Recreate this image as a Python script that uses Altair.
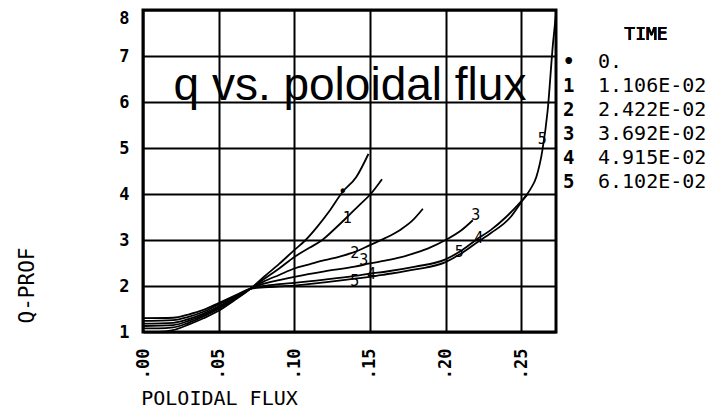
import altair as alt
import pandas as pd

# q profile versus poloidal flux, one curve per saved time slice
flux_0 = [0.0, 0.01, 0.02, 0.03, 0.04, 0.05, 0.06, 0.071, 0.08, 0.09, 0.10, 0.1075, 0.115, 0.123, 0.132, 0.141, 0.149]
q_0 = [1.00, 1.00, 1.04, 1.16, 1.30, 1.46, 1.68, 1.94, 2.20, 2.48, 2.78, 3.00, 3.28, 3.62, 4.05, 4.37, 4.87]

flux_1 = [0.0, 0.01, 0.02, 0.03, 0.04, 0.05, 0.06, 0.071, 0.08, 0.09, 0.10, 0.11, 0.1185, 0.127, 0.135, 0.143, 0.1505, 0.158]
q_1 = [1.08, 1.08, 1.10, 1.20, 1.34, 1.50, 1.70, 1.94, 2.15, 2.38, 2.63, 2.83, 3.00, 3.25, 3.50, 3.76, 4.00, 4.32]

flux_2 = [0.0, 0.02, 0.03, 0.04, 0.05, 0.06, 0.071, 0.08, 0.09, 0.10, 0.11, 0.12, 0.13, 0.14, 0.15, 0.16, 0.17, 0.178, 0.185]
q_2 = [1.13, 1.15, 1.24, 1.37, 1.53, 1.72, 1.94, 2.10, 2.24, 2.38, 2.47, 2.56, 2.64, 2.74, 2.89, 3.04, 3.22, 3.42, 3.68]

flux_3 = [0.0, 0.02, 0.03, 0.04, 0.05, 0.06, 0.071, 0.08, 0.09, 0.10, 0.12, 0.14, 0.15, 0.16, 0.17, 0.18, 0.19, 0.20, 0.21, 0.218]
q_3 = [1.18, 1.20, 1.28, 1.40, 1.56, 1.74, 1.94, 2.05, 2.13, 2.20, 2.32, 2.42, 2.49, 2.55, 2.62, 2.72, 2.84, 3.00, 3.20, 3.43]

flux_4 = [0.0, 0.02, 0.03, 0.04, 0.05, 0.06, 0.071, 0.08, 0.09, 0.10, 0.12, 0.14, 0.15, 0.16, 0.18, 0.20, 0.21, 0.22, 0.23, 0.24, 0.25, 0.254]
q_4 = [1.24, 1.26, 1.33, 1.44, 1.60, 1.76, 1.94, 2.00, 2.04, 2.07, 2.14, 2.22, 2.27, 2.31, 2.42, 2.58, 2.76, 3.00, 3.22, 3.50, 3.84, 3.98]

flux_5 = [0.0, 0.02, 0.03, 0.04, 0.05, 0.06, 0.071, 0.08, 0.09, 0.10, 0.12, 0.14, 0.15, 0.16, 0.18, 0.20, 0.21, 0.22, 0.23, 0.243, 0.251, 0.256, 0.26, 0.264, 0.2675, 0.271, 0.273]
q_5 = [1.30, 1.31, 1.38, 1.48, 1.63, 1.78, 1.94, 1.97, 1.99, 2.01, 2.08, 2.16, 2.20, 2.25, 2.36, 2.52, 2.70, 2.93, 3.15, 3.50, 3.87, 4.10, 4.37, 4.95, 5.82, 7.27, 7.93]

# Curve tags written along the profiles
tag_text = ["\u2022", "1", "2", "3", "4", "5", "3", "4", "5", "5"]
tag_flux = [0.132, 0.135, 0.140, 0.146, 0.151, 0.140, 0.220, 0.222, 0.209, 0.264]
tag_q = [4.05, 3.48, 2.72, 2.57, 2.26, 2.10, 3.55, 3.05, 2.74, 5.20]

# Time legend
legend_symbols = ["\u2022", "1", "2", "3", "4", "5"]
legend_times = ["0.", "1.106E-02", "2.422E-02", "3.692E-02", "4.915E-02", "6.102E-02"]

x_ticks = [0.0, 0.05, 0.10, 0.15, 0.20, 0.25]
y_ticks = [1, 2, 3, 4, 5, 6, 7, 8]

MONO = "DejaVu Sans Mono"

series = [flux_0, flux_1, flux_2, flux_3, flux_4, flux_5]
values = [q_0, q_1, q_2, q_3, q_4, q_5]
rows = []
for k, (fx, qv) in enumerate(zip(series, values)):
    for i, (a, b) in enumerate(zip(fx, qv)):
        rows.append({"curve": str(k), "order": i, "flux": a, "q": b})
profiles = pd.DataFrame(rows)

tags = pd.DataFrame({"tag": tag_text, "flux": tag_flux, "q": tag_q})
legend_df = pd.DataFrame({"row": list(range(len(legend_symbols))),
                          "sym": legend_symbols, "time": legend_times})
note_df = pd.DataFrame({"flux": [0.1368], "q": [6.04], "text": ["q vs. poloidal flux"]})

x_scale = alt.Scale(domain=[0, 0.273], nice=False, zero=False)
y_scale = alt.Scale(domain=[1, 8], nice=False, zero=False)

x_enc = alt.X(
    "flux:Q", scale=x_scale,
    axis=alt.Axis(
        values=x_ticks, title="POLOIDAL FLUX",
        labelExpr="substring(format(datum.value, '.2f'), 1)",
        labelAngle=270, labelPadding=16, labelFont=MONO, labelFontSize=17,
        labelFontWeight="bold", labelColor="black",
        titleFont=MONO, titleFontSize=20, titleFontWeight="normal", titleColor="black",
        titleX=76, titleY=66, titleAlign="center", titleBaseline="middle",
        ticks=False, domain=False, grid=True, gridColor="black", gridWidth=2,
        gridOpacity=1,
    ),
)
y_enc = alt.Y(
    "q:Q", scale=y_scale,
    axis=alt.Axis(
        values=y_ticks, title="Q-PROF", format="d",
        labelPadding=14, labelFont=MONO, labelFontSize=17, labelFontWeight="bold",
        labelColor="black",
        labelBaseline=alt.expr("datum.value == 8 ? 'top' : 'middle'"),
        titleFont=MONO, titleFontSize=21, titleFontWeight="normal", titleColor="black",
        titleAngle=270, titleX=-116, titleY=275, titleAlign="center",
        titleBaseline="middle",
        ticks=False, domain=False, grid=True, gridColor="black", gridWidth=2,
        gridOpacity=1,
    ),
)

lines = alt.Chart(profiles).mark_line(
    color="black", strokeWidth=1.8, interpolate="monotone"
).encode(x=x_enc, y=y_enc, detail="curve:N", order="order:Q")

tag_marks = alt.Chart(tags).mark_text(
    font=MONO, fontSize=15, color="black", baseline="middle", align="center"
).encode(x="flux:Q", y="q:Q", text="tag:N")

note = alt.Chart(note_df).mark_text(
    font="Liberation Sans", fontSize=46, color="black", align="center",
    baseline="alphabetic"
).encode(x="flux:Q", y="q:Q", text="text:N")

main = alt.layer(lines, tag_marks, note)

legend_y = alt.Y("row:Q", scale=alt.Scale(domain=[0, 5], range=[52, 172]), axis=None)
legend_syms = alt.Chart(legend_df).mark_text(
    font=MONO, fontSize=19, fontWeight="bold", color="black", align="left",
    baseline="middle"
).encode(x=alt.value(420), y=legend_y, text="sym:N")
legend_vals = alt.Chart(legend_df).mark_text(
    font=MONO, fontSize=20, color="black", align="left", baseline="middle"
).encode(x=alt.value(455), y=legend_y, text="time:N")
legend_title = alt.Chart(legend_df).mark_text(
    font=MONO, fontSize=18, color="black", align="center", baseline="middle",
    text="TIME"
).encode(x=alt.value(503), y=alt.value(25))
legend = alt.layer(legend_syms, legend_vals, legend_title)

chart = alt.layer(main, legend).resolve_scale(y="independent").properties(
    width=413, height=322,
    autosize=alt.AutoSizeParams(type="none"),
    padding={"left": 143, "top": 10, "right": 162, "bottom": 84},
    background="white",
).configure_view(stroke="black", strokeWidth=3)

chart.save("out.html", embed_options={"renderer": "svg", "actions": False})
